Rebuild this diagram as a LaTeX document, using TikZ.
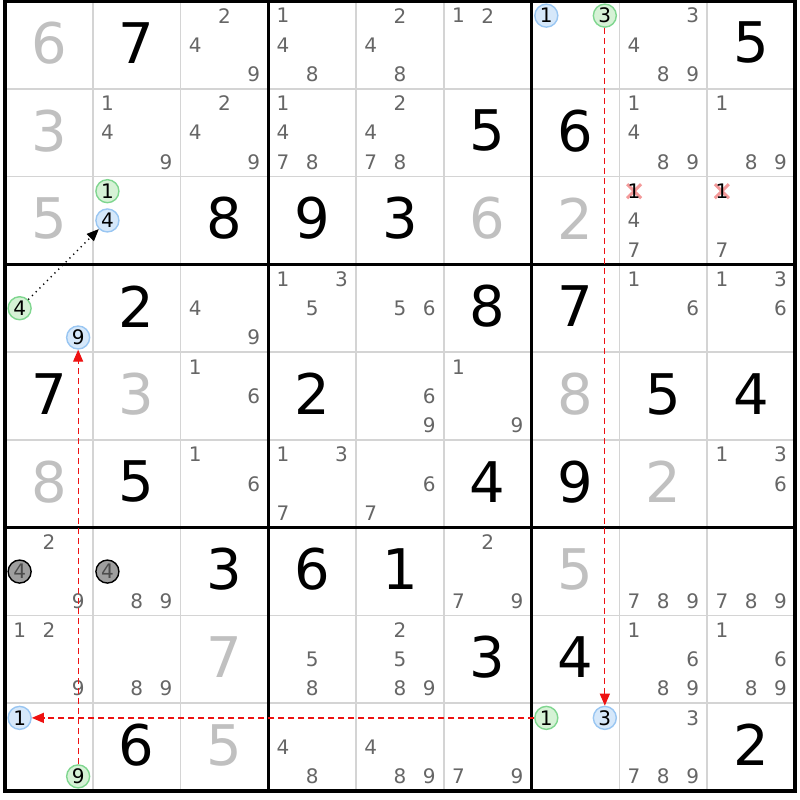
\documentclass[tikz,border=0pt]{standalone}
\usepackage{fontspec}
\setmainfont{DejaVu Sans}
\usetikzlibrary{arrows.meta}
\definecolor{thinc}{HTML}{D4D4D4}
\definecolor{candc}{HTML}{666666}
\definecolor{solvedc}{HTML}{C0C0C0}
\definecolor{gfill}{HTML}{D6F2D6}
\definecolor{gdraw}{HTML}{7FD68F}
\definecolor{bfill}{HTML}{D6E8FA}
\definecolor{bdraw}{HTML}{99C6F2}
\definecolor{crossc}{HTML}{F49A9A}
\definecolor{linkred}{HTML}{EE1111}
\tikzset{
 cand/.style={font=\fontsize{20}{20}\selectfont, text=candc, inner sep=0pt},
 given/.style={font=\fontsize{56}{56}\selectfont, text=black, inner sep=0pt},
 solvedd/.style={given, text=solvedc},
 gcirc/.style={circle, draw=gdraw, fill=gfill, line width=1.4pt, minimum size=23pt, inner sep=0pt, font=\fontsize{20}{20}\selectfont, text=black},
 bcirc/.style={gcirc, draw=bdraw, fill=bfill},
 kcirc/.style={gcirc, draw=black, fill=black!38, text=black!70},
 link/.style={draw=linkred, line width=1.3pt, dash pattern=on 6pt off 4pt, -{Triangle[length=12pt,width=10pt]}},
 weak/.style={draw=black, line width=1.3pt, dash pattern=on 1.3pt off 4pt, -{Triangle[length=12pt,width=10pt]}},
 thinline/.style={draw=thinc, line width=1.6pt},
 boxline/.style={draw=black, line width=3pt},
 crossline/.style={draw=crossc, line width=3pt},
}
\newcommand\candpos[3]{%
 \pgfmathsetmacro\cpx{5+(#2-1)*87.78+14.63+29.26*mod(#3-1,3)}%
 \pgfmathsetmacro\cpy{1+(#1-1)*87.78+14.63+29.26*floor((#3-1)/3)}}
\newcommand\cands[3]{\foreach \dd in {#3}{\candpos{#1}{#2}{\dd}\node[cand] (c#1#2\dd) at (\cpx,\cpy) {\dd};}}
\newcommand\bigd[4]{%
 \pgfmathsetmacro\cpx{5+(#2-0.5)*87.78}\pgfmathsetmacro\cpy{1+(#1-0.5)*87.78-2}%
 \node[#4] (v#1#2) at (\cpx,\cpy) {#3};}
\newcommand\circd[5]{\candpos{#1}{#2}{#3}\node[#4] (#5) at (\cpx,\cpy) {#3};}
\newcommand\crossd[2]{\candpos{#1}{#2}{1}%
 \draw[crossline] (\cpx-7,\cpy-7) -- (\cpx+7,\cpy+7) (\cpx-7,\cpy+7) -- (\cpx+7,\cpy-7);
 \node[cand, text=black] (x#1#2) at (\cpx,\cpy) {1};}
\begin{document}
\begin{tikzpicture}[x=1pt,y=-1pt]
\useasboundingbox (0,0) rectangle (800,800);
\fill[white] (0,0) rectangle (800,800);
% thin grid
\foreach \i in {1,2,4,5,7,8}{
 \draw[thinline] ({5+\i*87.78},1) -- ({5+\i*87.78},791);
 \draw[thinline] (5,{1+\i*87.78}) -- (795,{1+\i*87.78});
}
\foreach \i in {3,6}{
 \draw[boxline] ({5+\i*87.78},1) -- ({5+\i*87.78},791);
 \draw[boxline] (5,{1+\i*87.78}) -- (795,{1+\i*87.78});
}
\draw[draw=black, line width=4pt] (5,1) rectangle (795,791);
% row 1
\bigd{1}{1}{6}{solvedd}\bigd{1}{2}{7}{given}
\cands{1}{3}{2,4,9}\cands{1}{4}{1,4,8}\cands{1}{5}{2,4,8}\cands{1}{6}{1,2}
\circd{1}{7}{1}{bcirc}{b17}\circd{1}{7}{3}{gcirc}{g17}
\cands{1}{8}{3,4,8,9}\bigd{1}{9}{5}{given}
% row 2
\bigd{2}{1}{3}{solvedd}\cands{2}{2}{1,4,9}\cands{2}{3}{2,4,9}\cands{2}{4}{1,4,7,8}
\cands{2}{5}{2,4,7,8}\bigd{2}{6}{5}{given}\bigd{2}{7}{6}{given}
\cands{2}{8}{1,4,8,9}\cands{2}{9}{1,8,9}
% row 3
\bigd{3}{1}{5}{solvedd}\circd{3}{2}{1}{gcirc}{g32}\circd{3}{2}{4}{bcirc}{b32}
\bigd{3}{3}{8}{given}\bigd{3}{4}{9}{given}\bigd{3}{5}{3}{given}
\bigd{3}{6}{6}{solvedd}\bigd{3}{7}{2}{solvedd}
\crossd{3}{8}\cands{3}{8}{4,7}\crossd{3}{9}\cands{3}{9}{7}
% row 4
\circd{4}{1}{4}{gcirc}{g41}\circd{4}{1}{9}{bcirc}{b41}
\bigd{4}{2}{2}{given}\cands{4}{3}{4,9}\cands{4}{4}{1,3,5}\cands{4}{5}{5,6}
\bigd{4}{6}{8}{given}\bigd{4}{7}{7}{given}\cands{4}{8}{1,6}\cands{4}{9}{1,3,6}
% row 5
\bigd{5}{1}{7}{given}\bigd{5}{2}{3}{solvedd}\cands{5}{3}{1,6}\bigd{5}{4}{2}{given}
\cands{5}{5}{6,9}\cands{5}{6}{1,9}\bigd{5}{7}{8}{solvedd}\bigd{5}{8}{5}{given}\bigd{5}{9}{4}{given}
% row 6
\bigd{6}{1}{8}{solvedd}\bigd{6}{2}{5}{given}\cands{6}{3}{1,6}\cands{6}{4}{1,3,7}
\cands{6}{5}{6,7}\bigd{6}{6}{4}{given}\bigd{6}{7}{9}{given}\bigd{6}{8}{2}{solvedd}\cands{6}{9}{1,3,6}
% row 7
\cands{7}{1}{2,9}\circd{7}{1}{4}{kcirc}{k71}\circd{7}{2}{4}{kcirc}{k72}\cands{7}{2}{8,9}
\bigd{7}{3}{3}{given}\bigd{7}{4}{6}{given}\bigd{7}{5}{1}{given}\cands{7}{6}{2,7,9}
\bigd{7}{7}{5}{solvedd}\cands{7}{8}{7,8,9}\cands{7}{9}{7,8,9}
% row 8
\cands{8}{1}{1,2,9}\cands{8}{2}{8,9}\bigd{8}{3}{7}{solvedd}\cands{8}{4}{5,8}
\cands{8}{5}{2,5,8,9}\bigd{8}{6}{3}{given}\bigd{8}{7}{4}{given}
\cands{8}{8}{1,6,8,9}\cands{8}{9}{1,6,8,9}
% row 9
\circd{9}{1}{1}{bcirc}{b91}\circd{9}{1}{9}{gcirc}{g91}
\bigd{9}{2}{6}{given}\bigd{9}{3}{5}{solvedd}\cands{9}{4}{4,8}\cands{9}{5}{4,8,9}\cands{9}{6}{7,9}
\circd{9}{7}{1}{gcirc}{g97}\circd{9}{7}{3}{bcirc}{b97}
\cands{9}{8}{3,7,8,9}\bigd{9}{9}{2}{given}
% links
\draw[weak] (g41) -- (b32);
\draw[link] (g17) -- (b97);
\draw[link] (g97) -- (b91);
\draw[link] (g91) -- (b41);
\end{tikzpicture}
\end{document}
